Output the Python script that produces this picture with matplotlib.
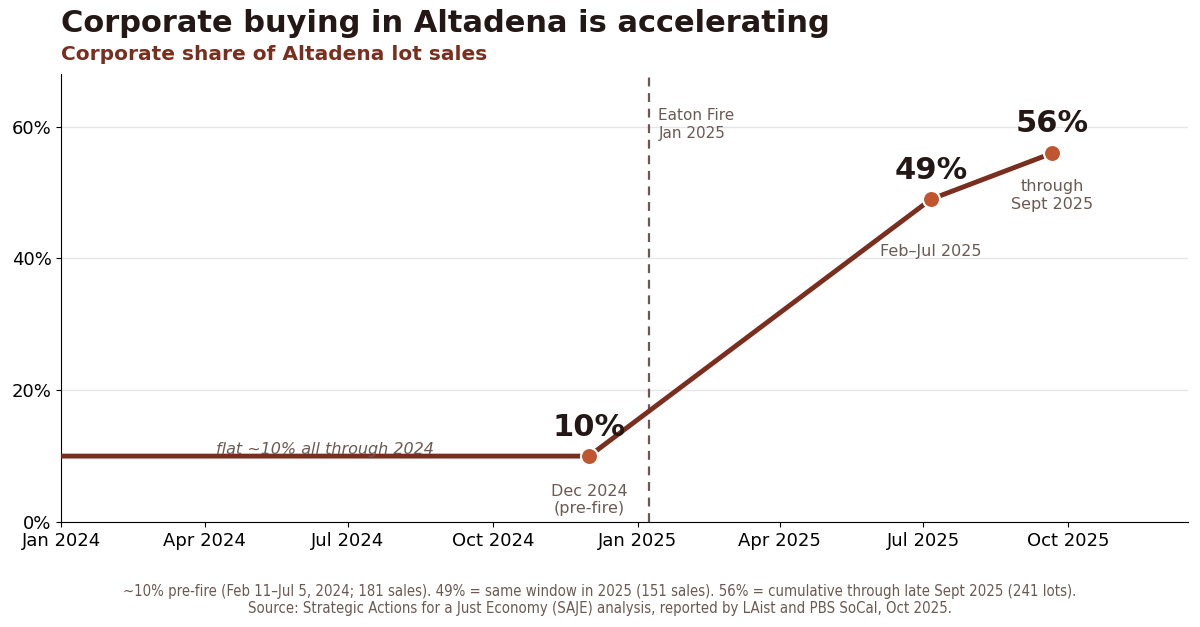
import matplotlib
matplotlib.use("Agg")
import matplotlib.pyplot as plt
import matplotlib.dates as mdates
from matplotlib.ticker import FuncFormatter
import pandas as pd

# data
dates = pd.to_datetime(["2024-01-01", "2024-12-01", "2025-07-06", "2025-09-21"])
share = [10, 10, 49, 56]
marked = [1, 2, 3]  # indices that get a dot + label
big_labels = ["10%", "49%", "56%"]
small_labels = ["Dec 2024\n(pre-fire)", "Feb\u2013Jul 2025", "through\nSept 2025"]
fire_date = pd.Timestamp("2025-01-08")

LINE = "#7a2e1e"
DOT = "#c0562f"
DARK = "#231815"
MUTED = "#6b5a53"

fig = plt.figure(figsize=(12, 6.27), dpi=100)
ax = fig.add_axes([0.051, 0.1675, 0.939, 0.7145])

ax.plot(dates, share, color=LINE, lw=3.5, zorder=3, solid_capstyle="butt")
ax.scatter(dates[marked], [share[i] for i in marked], s=150, color=DOT,
           edgecolor="white", linewidth=1.5, zorder=4)

ax.axvline(fire_date, color=MUTED, ls=(0, (4, 3)), lw=1.6, zorder=2)
ax.text(fire_date + pd.Timedelta(days=6), 62.8, "Eaton Fire\nJan 2025",
        color=MUTED, fontsize=11, va="top", ha="left", linespacing=1.2)

# big value labels
ax.text(dates[1], 12.2, big_labels[0], fontsize=22, fontweight="bold",
        color=DARK, ha="center", va="bottom")
ax.text(dates[2], 51.2, big_labels[1], fontsize=22, fontweight="bold",
        color=DARK, ha="center", va="bottom")
ax.text(dates[3], 58.3, big_labels[2], fontsize=22, fontweight="bold",
        color=DARK, ha="center", va="bottom")

# small context labels
ax.text(dates[1], 5.8, small_labels[0], fontsize=11.5, color=MUTED,
        ha="center", va="top", linespacing=1.2)
ax.text(dates[2], 42.2, small_labels[1], fontsize=11.5, color=MUTED,
        ha="center", va="top")
ax.text(dates[3], 52.0, small_labels[2], fontsize=11.5, color=MUTED,
        ha="center", va="top", linespacing=1.2)

ax.text(pd.Timestamp("2024-04-08"), 9.8, "flat ~10% all through 2024",
        fontsize=11.5, style="italic", color=MUTED, ha="left", va="bottom")

ax.set_xlim(pd.Timestamp("2024-01-01"), pd.Timestamp("2025-12-16"))
ax.set_ylim(0, 68)
ax.set_yticks([0, 20, 40, 60])
ax.yaxis.set_major_formatter(FuncFormatter(lambda v, p: f"{v:.0f}%"))
ax.xaxis.set_major_locator(mdates.MonthLocator(bymonth=[1, 4, 7, 10]))
ax.xaxis.set_major_formatter(mdates.DateFormatter("%b %Y"))
ax.tick_params(labelsize=13)
ax.grid(axis="y", color="#e6e6e6", lw=1)
ax.set_axisbelow(True)
for s in ["top", "right"]:
    ax.spines[s].set_visible(False)

fig.text(0.051, 0.963, "Corporate buying in Altadena is accelerating",
         fontsize=22, fontweight="bold", color=DARK, va="center")
fig.text(0.051, 0.913, "Corporate share of Altadena lot sales",
         fontsize=14.5, fontweight="bold", color=LINE, va="center")

fig.text(0.5, 0.043,
         "~10% pre-fire (Feb 11\u2013Jul 5, 2024; 181 sales). 49% = same window in 2025 (151 sales). "
         "56% = cumulative through late Sept 2025 (241 lots).\n"
         "Source: Strategic Actions for a Just Economy (SAJE) analysis, reported by LAist and PBS SoCal, Oct 2025.",
         fontsize=10.7, color=MUTED, ha="center", va="center",
         family="DejaVu Sans", stretch="condensed", linespacing=1.15)

fig.savefig("out.png", dpi=100)
